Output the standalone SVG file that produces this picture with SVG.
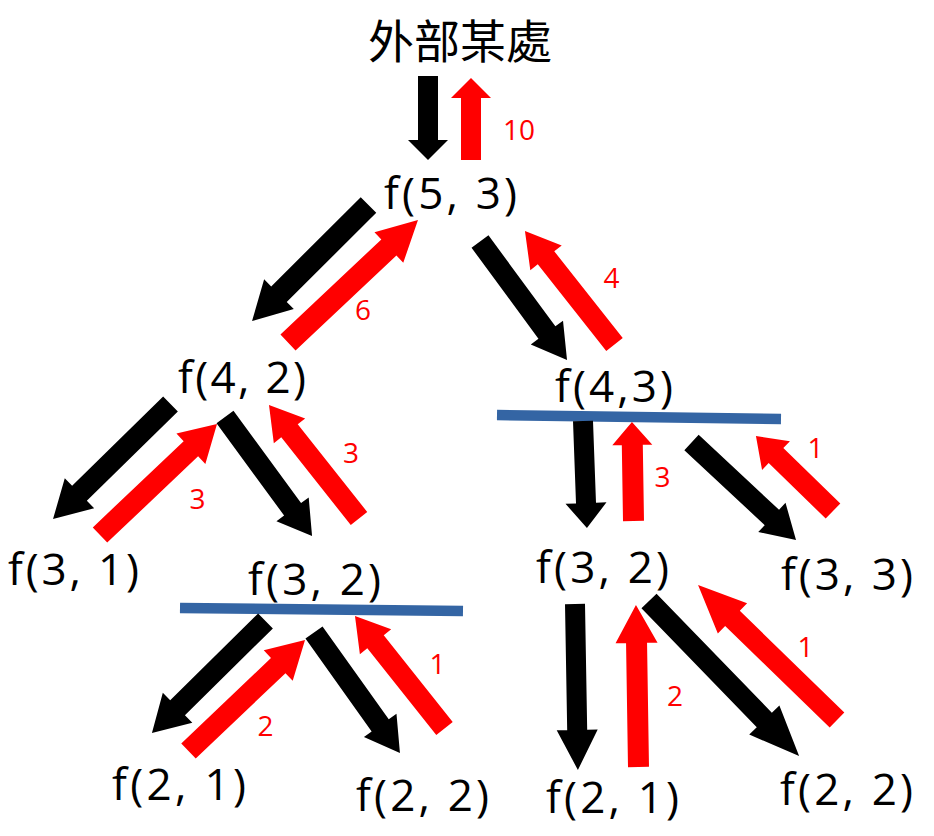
<svg xmlns="http://www.w3.org/2000/svg" width="934" height="836" viewBox="0 0 934 836">
<style>
.n{font-family:"Open Sans","Liberation Sans",sans-serif;font-size:44px;fill:#000}
.cjk{font-family:"Noto Sans CJK TC","Noto Sans CJK SC",sans-serif;font-size:46px;fill:#000}
.lb{font-family:"Open Sans","Liberation Sans",sans-serif;font-size:28px;fill:#FF0000;text-anchor:middle}
.call{fill:#000}
.ret{fill:#FF0000}
.sep{stroke:#3465A4;stroke-width:10.5;fill:none}
</style>
<rect width="934" height="836" fill="#FFFFFF"/>
<g id="outside"><text class="cjk" x="460" y="58" text-anchor="middle">外部某處</text></g>
<g id="f53"><text class="n" x="384" y="209" textLength="133">f(5, 3)</text></g>
<g id="f42"><text class="n" x="178" y="393" textLength="128">f(4, 2)</text></g>
<g id="f43"><text class="n" x="555" y="402" textLength="118">f(4,3)</text><line class="sep" x1="497" y1="415" x2="781" y2="419"/></g>
<g id="f31"><text class="n" x="8" y="585" textLength="131">f(3, 1)</text></g>
<g id="f32a"><text class="n" x="248" y="595" textLength="133">f(3, 2)</text><line class="sep" x1="180" y1="608" x2="463" y2="611"/></g>
<g id="f32b"><text class="n" x="536" y="583" textLength="133">f(3, 2)</text></g>
<g id="f33"><text class="n" x="781" y="590" textLength="132">f(3, 3)</text></g>
<g id="f21a"><text class="n" x="112" y="800" textLength="134">f(2, 1)</text></g>
<g id="f22a"><text class="n" x="356" y="811" textLength="133">f(2, 2)</text></g>
<g id="f21b"><text class="n" x="546" y="813" textLength="133">f(2, 1)</text></g>
<g id="f22b"><text class="n" x="780" y="805" textLength="133">f(2, 2)</text></g>
<g id="connectors">
<polygon class="call" transform="translate(428,76) rotate(90)" points="0,-10 64,-10 64,-20 84,0 64,20 64,10 0,10"/>
<polygon class="ret" transform="translate(471,160) rotate(-90)" points="0,-10 62,-10 62,-20 82,0 62,20 62,10 0,10"/>
<polygon class="call" transform="translate(368.5,205) rotate(135.1)" points="0,-11 126.4,-11 126.4,-21 164.4,0 126.4,21 126.4,11 0,11"/>
<polygon class="ret" transform="translate(288,342.5) rotate(-43.3)" points="0,-11 138.6,-11 138.6,-21 178.6,0 138.6,21 138.6,11 0,11"/>
<polygon class="call" transform="translate(480,241.5) rotate(53.7)" points="0,-10.5 113,-10.5 113,-20 147,0 113,20 113,10.5 0,10.5"/>
<polygon class="ret" transform="translate(614.5,344.5) rotate(-128.3)" points="0,-10.5 110.5,-10.5 110.5,-20 144.5,0 110.5,20 110.5,10.5 0,10.5"/>
<polygon class="call" transform="translate(170.5,404) rotate(135.6)" points="0,-10.5 127.4,-10.5 127.4,-21 164.4,0 127.4,21 127.4,10.5 0,10.5"/>
<polygon class="ret" transform="translate(100,535) rotate(-43.5)" points="0,-10.5 125.3,-10.5 125.3,-21 161.3,0 125.3,21 125.3,10.5 0,10.5"/>
<polygon class="call" transform="translate(225,417) rotate(53.8)" points="0,-10.5 114.4,-10.5 114.4,-20 147.4,0 114.4,20 114.4,10.5 0,10.5"/>
<polygon class="ret" transform="translate(359,518.5) rotate(-128.4)" points="0,-10.5 111.9,-10.5 111.9,-20 144.9,0 111.9,20 111.9,10.5 0,10.5"/>
<polygon class="call" transform="translate(583,421) rotate(87.9)" points="0,-10 82.1,-10 82.1,-20.5 107.1,0 82.1,20.5 82.1,10 0,10"/>
<polygon class="ret" transform="translate(633.5,521) rotate(-90.9)" points="0,-10.5 76,-10.5 76,-20 99,0 76,20 76,10.5 0,10.5"/>
<polygon class="call" transform="translate(691.5,442.5) rotate(43)" points="0,-10.5 109.9,-10.5 109.9,-20 142.9,0 109.9,20 109.9,10.5 0,10.5"/>
<polygon class="ret" transform="translate(833,511) rotate(-135.8)" points="0,-10.5 79.5,-10.5 79.5,-20 107.5,0 79.5,20 79.5,10.5 0,10.5"/>
<polygon class="call" transform="translate(265.5,621) rotate(135.4)" points="0,-10.5 123.5,-10.5 123.5,-21 159.5,0 123.5,21 123.5,10.5 0,10.5"/>
<polygon class="ret" transform="translate(188.5,751) rotate(-43.6)" points="0,-10.5 123.9,-10.5 123.9,-21 160.9,0 123.9,21 123.9,10.5 0,10.5"/>
<polygon class="call" transform="translate(314,632.5) rotate(54.5)" points="0,-10.5 114,-10.5 114,-20 148,0 114,20 114,10.5 0,10.5"/>
<polygon class="ret" transform="translate(444.5,728.5) rotate(-128.5)" points="0,-10.5 110.8,-10.5 110.8,-20 143.8,0 110.8,20 110.8,10.5 0,10.5"/>
<polygon class="call" transform="translate(575,604) rotate(89)" points="0,-10 126,-10 126,-20.5 166,0 126,20.5 126,10 0,10"/>
<polygon class="ret" transform="translate(638.5,767) rotate(-90.9)" points="0,-10.5 124,-10.5 124,-21 162,0 124,21 124,10.5 0,10.5"/>
<polygon class="call" transform="translate(649,601) rotate(45.9)" points="0,-10.5 165.7,-10.5 165.7,-21 215.7,0 165.7,21 165.7,10.5 0,10.5"/>
<polygon class="ret" transform="translate(837,720) rotate(-135.8)" points="0,-10.5 145.8,-10.5 145.8,-21 193.8,0 145.8,21 145.8,10.5 0,10.5"/>
<text class="lb" x="519" y="140">10</text>
<text class="lb" x="363" y="320">6</text>
<text class="lb" x="611.5" y="288">4</text>
<text class="lb" x="197.5" y="509">3</text>
<text class="lb" x="351" y="463">3</text>
<text class="lb" x="662.5" y="487">3</text>
<text class="lb" x="815.5" y="458">1</text>
<text class="lb" x="265.5" y="736">2</text>
<text class="lb" x="437.5" y="674">1</text>
<text class="lb" x="675" y="706">2</text>
<text class="lb" x="805.5" y="657">1</text>
</g>
</svg>
